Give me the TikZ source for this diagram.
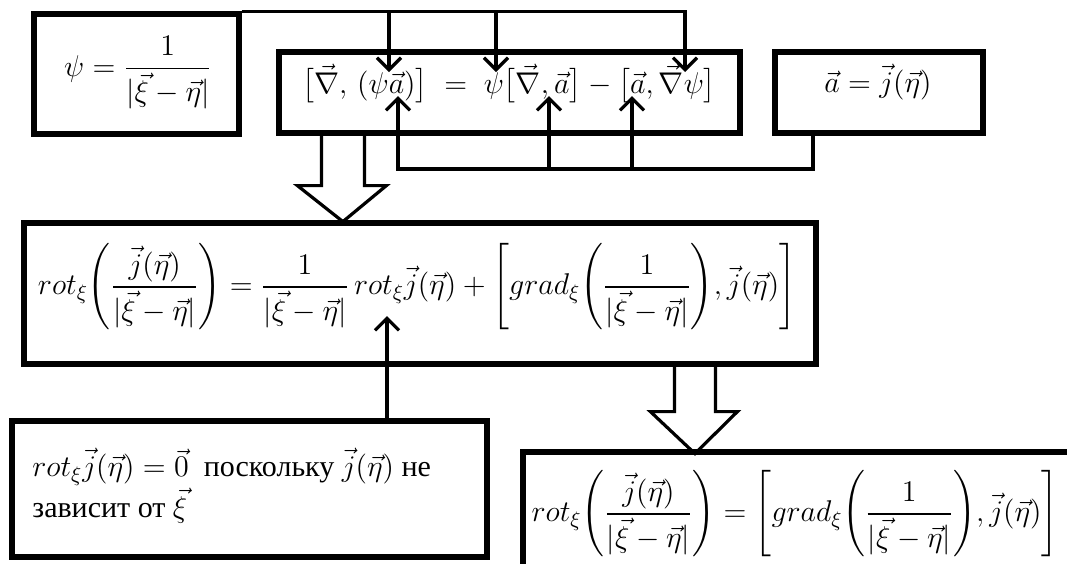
\RequirePackage{fix-cm}
\documentclass[tikz,border=0pt]{standalone}
\usepackage{amsmath}
\usepackage{fontspec}
\setmainfont{Liberation Serif}
\usetikzlibrary{arrows.meta,calc}

\begin{document}
\begin{tikzpicture}[
    x=0.5pt, y=-0.5pt,
    box/.style={draw, line width=2.6pt, inner sep=0pt},
    formula/.style={inner sep=0pt, font=\fontsize{15}{20.5}\selectfont},
    conn/.style={line width=1.6pt, ->},
    fat/.style={line width=1.6pt, line join=miter},
    >={Straight Barb[length=6pt,width=12pt]}
]
    \useasboundingbox (0,0) rectangle (1067,563);
    \clip (0,0) rectangle (1067,563);

    % 1. Top row: psi, the identity, the field
    \node[box, minimum width=102.5pt, minimum height=60pt] (psibox) at (136.5,74) {};
    \node[formula] (psitext) at (138,73) {$\psi=\dfrac{1}{|\vec{\xi}-\vec{\eta}|}$};

    \node[box, minimum width=230.5pt, minimum height=40.5pt] (midbox) at (509.5,92.5) {};
    \node[formula] (midtext) at (509,84) {$\bigl[\vec{\nabla},\,(\psi\vec{a})\bigr] \;=\; \psi\bigl[\vec{\nabla},\vec{a}\bigr]-\bigl[\vec{a},\vec{\nabla}\psi\bigr]$};

    \node[box, minimum width=104pt, minimum height=40.5pt] (abox) at (879,92.5) {};
    \node[formula] (atext) at (878,82) {$\vec{a}=\vec{j}(\vec{\eta})$};

    % 2. Middle: expanded rot
    \node[box, minimum width=396pt, minimum height=70.5pt] (bigbox) at (420,293.5) {};
    \node[formula] (bigtext) at (417,287) {$rot_{\xi}\Biggl(\dfrac{\vec{j}(\vec{\eta})}{|\vec{\xi}-\vec{\eta}|}\Biggr)=\dfrac{1}{|\vec{\xi}-\vec{\eta}|}\,rot_{\xi}\vec{j}(\vec{\eta})+\Biggl[grad_{\xi}\Biggl(\dfrac{1}{|\vec{\xi}-\vec{\eta}|}\Biggr),\vec{j}(\vec{\eta})\Biggr]$};

    % 3. Bottom row: remark and result
    \node[box, minimum width=237.5pt, minimum height=68pt] (notebox) at (249.5,489) {};
    \node[formula, anchor=north west, align=left] (notetext) at (32,448) {$rot_{\xi}\vec{j}(\vec{\eta})=\vec{0}$\ \ поскольку $\vec{j}(\vec{\eta})$ не\\зависит от $\vec{\xi}$};

    \node[box, minimum width=278.5pt, minimum height=61.5pt] (resbox) at (801.5,513.5) {};
    \node[formula] (restext) at (795,514) {$rot_{\xi}\Biggl(\dfrac{\vec{j}(\vec{\eta})}{|\vec{\xi}-\vec{\eta}|}\Biggr)=\Biggl[grad_{\xi}\Biggl(\dfrac{1}{|\vec{\xi}-\vec{\eta}|}\Biggr),\vec{j}(\vec{\eta})\Biggr]$};

    % Arrow ends inside the identity
    \coordinate (psiA) at (389,72);
    \coordinate (psiB) at (496,72);
    \coordinate (psiC) at (685,72);
    \coordinate (vecA) at (398,96);
    \coordinate (vecB) at (549,96);
    \coordinate (vecC) at (632,96);
    \coordinate (abus) at (813,169);
    \coordinate (rotj) at (387,316);

    % psi goes in
    \draw[conn] (psibox.north east) -| (psiC);
    \draw[conn] (psiA |- psibox.north) -- (psiA);
    \draw[conn] (psiB |- psibox.north) -- (psiB);

    % a goes in
    \draw[conn] (abus |- abox.south) -- (abus) -| (vecA);
    \draw[conn] (vecB |- abus) -- (vecB);
    \draw[conn] (vecC |- abus) -- (vecC);

    % rot j = 0
    \draw[conn] (rotj |- notebox.north) -- (rotj);

    % Hollow arrows
    \draw[fat] ($(midbox.south west)+(45,0)$) -- ++(0,50) -- ++(-24,0) -- ++(45.5,36) -- ++(43.5,-36) -- ++(-22,0) -- ++(0,-50);
    \draw[fat] ($(bigbox.south west)+(653,0)$) -- ++(0,45) -- ++(-24,0) -- ++(44.5,42) -- ++(42.5,-42) -- ++(-22,0) -- ++(0,-45);

\end{tikzpicture}
\end{document}
